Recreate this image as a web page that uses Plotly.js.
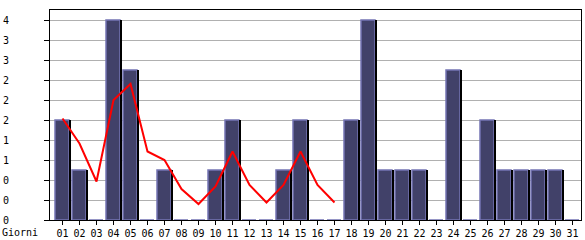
<!DOCTYPE html>
<html><head><meta charset="utf-8">
<script src="https://cdn.plot.ly/plotly-3.0.1.min.js"></script>
<style>html,body{margin:0;padding:0;background:#fff}#chart{width:585px;height:240px}</style>
</head><body><div id="chart"></div>
<script>
const days = ['01','02','03','04','05','06','07','08','09','10','11','12','13','14','15','16','17','18','19','20','21','22','23','24','25','26','27','28','29','30','31'];
const visits = [2,1,0,4,3,0,1,0,0,1,2,0,0,1,2,0,0,2,4,1,1,1,0,3,0,2,1,1,1,1,0];
const trendDays = ['01','02','03','04','05','06','07','08','09','10','11','12','13','14','15','16','17'];
const trend = [2.03,1.53,0.77,2.4,2.72,1.37,1.2,0.62,0.32,0.67,1.37,0.7,0.35,0.7,1.37,0.7,0.35];
const yTicks = [0,0.4,0.8,1.2,1.6,2.0,2.4,2.8,3.2,3.6,4.0];
const yTickText = ['0','0','0','1','1','2','2','2','3','3','4'];

const pos = days.map((d,i)=>i+1);
const tpos = trendDays.map(d=>days.indexOf(d)+1);
const px = 17; // pixels per category
const font = {family:'DejaVu Sans Mono', size:10, color:'#000'};

const data = [
  {type:'bar', x:pos, y:visits, width:14/px, offset:-7.5/px,
   marker:{color:'#414169', line:{color:'#7474b4', width:1.5}}, hoverinfo:'none'},
  {type:'bar', x:pos, y:visits, width:2/px, offset:6.5/px,
   marker:{color:'#000000', line:{width:0}}, hoverinfo:'none'},
  {type:'scatter', mode:'lines', x:tpos, y:trend,
   line:{color:'#ff0000', width:2}, hoverinfo:'none'}
];
const layout = {
  width:585, height:240,
  margin:{l:50, r:4, t:10, b:20},
  barmode:'overlay', showlegend:false,
  paper_bgcolor:'#fff', plot_bgcolor:'#fff',
  font:font,
  xaxis:{range:[1-12.5/px, 1+518.5/px], tickvals:pos, ticktext:days,
    ticks:'outside', ticklen:4, tickcolor:'#000', tickwidth:1,
    showline:true, linecolor:'#000', linewidth:1, mirror:true,
    showgrid:false, zeroline:false, tickfont:font, tickangle:0},
  yaxis:{range:[0,4.2], tickvals:yTicks, ticktext:yTickText,
    ticks:'outside', ticklen:5, tickcolor:'#000', tickwidth:1,
    ticklabelstandoff:33,
    showline:true, linecolor:'#000', linewidth:1, mirror:true,
    showgrid:true, gridcolor:'#b0b0b0', gridwidth:1, zeroline:false, tickfont:font},
  annotations:[{text:'Giorni', xref:'paper', yref:'paper', x:-50/531, y:-12/210,
    xanchor:'left', yanchor:'middle', showarrow:false, font:font}]
};
Plotly.newPlot('chart', data, layout, {staticPlot:true, displayModeBar:false});
</script></body></html>
